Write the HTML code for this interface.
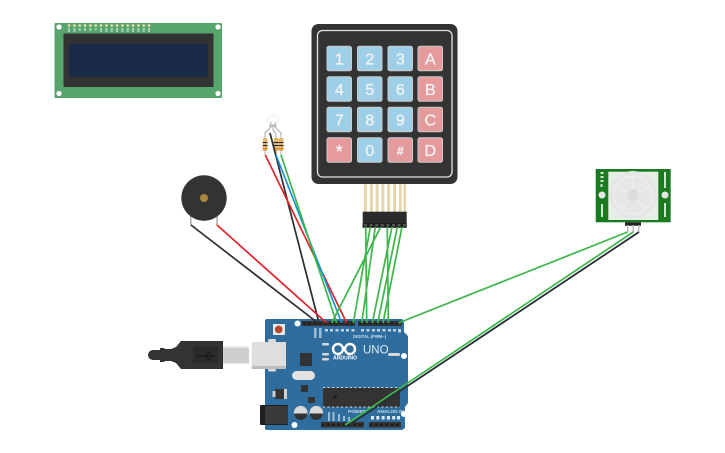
<!DOCTYPE html>
<html><head><meta charset="utf-8"><style>
html,body{margin:0;padding:0;background:#fff}
svg{display:block}
text{font-family:"Liberation Sans",sans-serif}
</style></head><body>
<svg width="725" height="453" viewBox="0 0 725 453" xmlns="http://www.w3.org/2000/svg">
<rect width="725" height="453" fill="#fff"/>
<!-- LCD -->
<rect x="54.5" y="23" width="167.5" height="75" rx="1" fill="#55a56d"/>
<rect x="63.5" y="33.5" width="150" height="53.5" fill="#333"/>
<rect x="69" y="43.5" width="139" height="33.5" fill="#1b2a47"/>
<g fill="#fff"><circle cx="59" cy="27" r="2.6"/><circle cx="218" cy="27" r="2.6"/><circle cx="59" cy="93.500" r="2.600"/><circle cx="218" cy="93.500" r="2.600"/></g>
<g fill="#e8d9a0"><circle cx="69" cy="25.500" r="1.400"/><circle cx="74.400" cy="25.500" r="1.400"/><circle cx="79.700" cy="25.500" r="1.400"/><circle cx="85" cy="25.500" r="1.400"/><circle cx="90.400" cy="25.500" r="1.400"/><circle cx="95.700" cy="25.500" r="1.400"/><circle cx="101" cy="25.500" r="1.400"/><circle cx="106.400" cy="25.500" r="1.400"/><circle cx="111.700" cy="25.500" r="1.400"/><circle cx="117" cy="25.500" r="1.400"/><circle cx="122.400" cy="25.500" r="1.400"/><circle cx="127.700" cy="25.500" r="1.400"/><circle cx="133" cy="25.500" r="1.400"/><circle cx="138.400" cy="25.500" r="1.400"/><circle cx="143.700" cy="25.500" r="1.400"/><circle cx="149" cy="25.500" r="1.400"/></g>
<g fill="#a8d2b4"><rect x="68" y="28" width="2" height="4"/><rect x="73.400" y="28" width="2" height="4"/><rect x="78.700" y="28" width="2" height="3"/><rect x="84" y="28" width="2" height="3"/><rect x="89.400" y="28" width="2" height="3"/><rect x="94.700" y="28" width="2" height="2"/><rect x="100" y="28" width="2" height="4"/><rect x="105.400" y="28" width="2" height="4"/><rect x="110.700" y="28" width="2" height="4"/><rect x="116" y="28" width="2" height="4"/><rect x="121.400" y="28" width="2" height="4"/><rect x="126.700" y="28" width="2" height="4"/><rect x="132" y="28" width="2" height="4"/><rect x="137.400" y="28" width="2" height="4"/><rect x="142.700" y="28" width="2" height="4"/><rect x="148" y="28" width="2" height="4"/></g>
<!-- Keypad ribbon -->
<g fill="#e6d6ac"><rect x="364" y="183" width="3" height="29"/><rect x="369.800" y="183" width="3" height="29"/><rect x="375.600" y="183" width="3" height="29"/><rect x="381.400" y="183" width="3" height="29"/><rect x="387.200" y="183" width="3" height="29"/><rect x="393" y="183" width="3" height="29"/><rect x="398.800" y="183" width="3" height="29"/><rect x="403.500" y="183" width="2.500" height="29"/></g>
<!-- Keypad -->
<rect x="311.500" y="24" width="146" height="160" rx="7" fill="#333"/>
<rect x="317.500" y="30.500" width="134.500" height="146.500" rx="5" fill="none" stroke="#e4e4e4" stroke-width="1.300"/>
<g stroke="#ccc" stroke-width="1">
<rect x="327" y="46.300" width="24.500" height="24.500" rx="2" fill="#9dd0e8"/><rect x="357.500" y="46.300" width="24.500" height="24.500" rx="2" fill="#9dd0e8"/><rect x="388" y="46.300" width="24.500" height="24.500" rx="2" fill="#9dd0e8"/><rect x="418" y="46.300" width="24.500" height="24.500" rx="2" fill="#e59a9c"/>
<rect x="327" y="76.800" width="24.500" height="24.500" rx="2" fill="#9dd0e8"/><rect x="357.500" y="76.800" width="24.500" height="24.500" rx="2" fill="#9dd0e8"/><rect x="388" y="76.800" width="24.500" height="24.500" rx="2" fill="#9dd0e8"/><rect x="418" y="76.800" width="24.500" height="24.500" rx="2" fill="#e59a9c"/>
<rect x="327" y="107.300" width="24.500" height="24.500" rx="2" fill="#9dd0e8"/><rect x="357.500" y="107.300" width="24.500" height="24.500" rx="2" fill="#9dd0e8"/><rect x="388" y="107.300" width="24.500" height="24.500" rx="2" fill="#9dd0e8"/><rect x="418" y="107.300" width="24.500" height="24.500" rx="2" fill="#e59a9c"/>
<rect x="327" y="137.800" width="24.500" height="24.500" rx="2" fill="#e59a9c"/><rect x="357.500" y="137.800" width="24.500" height="24.500" rx="2" fill="#9dd0e8"/><rect x="388" y="137.800" width="24.500" height="24.500" rx="2" fill="#e59a9c"/><rect x="418" y="137.800" width="24.500" height="24.500" rx="2" fill="#e59a9c"/>
</g>
<g fill="#f1f1f1" stroke="#f1f1f1" stroke-width=".35" font-size="16" text-anchor="middle">
<text x="339.300" y="64.300">1</text><text x="369.800" y="64.300">2</text><text x="400.300" y="64.300">3</text><text x="430.300" y="64.300">A</text>
<text x="339.300" y="94.800">4</text><text x="369.800" y="94.800">5</text><text x="400.300" y="94.800">6</text><text x="430.300" y="94.800">B</text>
<text x="339.300" y="125.300">7</text><text x="369.800" y="125.300">8</text><text x="400.300" y="125.300">9</text><text x="430.300" y="125.300">C</text>
<text x="339.300" y="158" font-size="18">*</text><text x="369.800" y="155.800">0</text><text x="400.300" y="155" font-size="12" font-weight="bold">#</text><text x="430.300" y="155.800">D</text>
</g>
<!-- Keypad connector -->
<rect x="362.700" y="211.700" width="44" height="16" fill="#2b2b2b"/>
<rect x="362.700" y="223" width="44" height="4.700" fill="#1e1e1e"/>
<g fill="#555"><rect x="364" y="224" width="3" height="2.500"/><rect x="369.600" y="224" width="3" height="2.500"/><rect x="375.200" y="224" width="3" height="2.500"/><rect x="380.800" y="224" width="3" height="2.500"/><rect x="386.400" y="224" width="3" height="2.500"/><rect x="392" y="224" width="3" height="2.500"/><rect x="397.600" y="224" width="3" height="2.500"/><rect x="403" y="224" width="3" height="2.500"/></g>
<!-- Buzzer -->
<rect x="190" y="216" width="1.500" height="10" fill="#aaa"/><rect x="216.300" y="216" width="1.500" height="10" fill="#aaa"/>
<circle cx="204" cy="198" r="22.700" fill="#333"/>
<circle cx="204" cy="198" r="4" fill="#a9863c"/>
<!-- LED + resistors -->
<circle cx="273" cy="120.500" r="5.500" fill="#fff" stroke="#eee" stroke-width="1"/>
<path d="M271 122v5l-6 6v5M273 124v6l3 4v4M275 122v5l6 6v5M269 126h8" fill="none" stroke="#a8a8a8" stroke-width="1"/>
<g stroke="#a8a8a8" stroke-width="1"><path d="M265 150v5M276 150v5M281 150v5"/></g>
<g><rect x="262.700" y="138" width="4.800" height="13" rx="1.500" fill="#e0b56e"/><rect x="273.700" y="138" width="4.800" height="13" rx="1.500" fill="#e0b56e"/><rect x="278.700" y="138" width="4.800" height="13" rx="1.500" fill="#e0b56e"/></g>
<g fill="#222"><rect x="262.700" y="142" width="4.800" height="1"/><rect x="273.700" y="142" width="4.800" height="1"/><rect x="278.700" y="142" width="4.800" height="1"/><rect x="262.700" y="145" width="4.800" height="1"/><rect x="273.700" y="145" width="4.800" height="1"/><rect x="278.700" y="145" width="4.800" height="1"/></g>
<g fill="#e98a1e"><rect x="262.700" y="148" width="4.800" height="1.500"/><rect x="273.700" y="148" width="4.800" height="1.500"/><rect x="278.700" y="148" width="4.800" height="1.500"/></g>
<!-- USB cable -->
<path d="M153 350h8v10h-8a5 5 0 0 1 0-10z" fill="#333"/>
<path d="M160 348h4l1 1h6l5-2 5-6h42v28h-42l-5-6-5-2h-6l-1 1h-4z" fill="#333"/>
<rect x="193" y="347" width="25" height="16" fill="#2a2a2a"/>
<path d="M197 356h18M205 356l3-3h3M205 356l3 3h3" stroke="#151515" stroke-width="1" fill="none"/>
<rect x="223" y="346" width="26" height="17.500" fill="#cfcfcf"/>
<rect x="223" y="346" width="26" height="2" fill="#e8e8e8"/>
<!-- Arduino -->
<path d="M267 319H402l2 2v11l4 4v67l-3 4v21l-3 2H267q-2 0-2-2V321q0-2 2-2z" fill="#2e6d9e"/>
<rect x="273" y="324" width="12" height="11" fill="#e6e6e6"/>
<circle cx="278.700" cy="329.400" r="3.800" fill="#b5482c"/>
<rect x="251.700" y="342" width="34.300" height="27" fill="#dedede"/>
<rect x="251.700" y="366" width="34.300" height="3" fill="#bdbdbd"/>
<rect x="268" y="339" width="8" height="3" rx="1.500" fill="#dedede"/><rect x="268" y="369" width="8" height="2.500" rx="1.200" fill="#dedede"/>
<rect x="300" y="353" width="12" height="13" fill="#333"/>
<g fill="#fff"><circle cx="297.500" cy="323.500" r="3"/><circle cx="404" cy="356" r="3"/><circle cx="404" cy="414" r="3"/><circle cx="294.500" cy="425" r="3"/></g>
<!-- headers -->
<rect x="301.700" y="321" width="53.300" height="5" fill="#333"/>
<rect x="358" y="321" width="43.700" height="5" fill="#333"/>
<rect x="321" y="422" width="43" height="5.500" fill="#333"/>
<rect x="369" y="422" width="32" height="5.500" fill="#333"/>
<g stroke="#1d1d1d" stroke-width="2" stroke-dasharray="3 2.330" fill="none"><path d="M302.500 323.500H355M358.500 323.500H401.500M321.500 424.700H364M369.500 424.700H401"/></g>
<!-- silkscreen -->
<g fill="#fff"><rect x="325" y="329" width="3" height="2.500" opacity=".7"/><rect x="330" y="329" width="3" height="2.500" opacity=".7"/><rect x="335.500" y="329" width="3" height="2.500" opacity=".7"/><rect x="341" y="329" width="3" height="2.500" opacity=".7"/><rect x="346" y="329" width="3" height="2.500" opacity=".7"/><rect x="351.500" y="329" width="3" height="2.500" opacity=".7"/><rect x="361" y="329" width="3" height="2.500" opacity=".7"/><rect x="366.500" y="329" width="3" height="2.500" opacity=".7"/><rect x="372" y="329" width="3" height="2.500" opacity=".7"/><rect x="377" y="329" width="3" height="2.500" opacity=".7"/><rect x="382.500" y="329" width="3" height="2.500" opacity=".7"/><rect x="388" y="329" width="3" height="2.500" opacity=".7"/><rect x="393" y="329" width="3" height="2.500" opacity=".7"/><rect x="398" y="329" width="3" height="3.500" opacity=".7"/></g>
<g fill="#9dbdd4"><rect x="314" y="328" width="2.500" height="10"/><rect x="319" y="328" width="2.500" height="10"/><rect x="328" y="412" width="2" height="9"/><rect x="332.500" y="412" width="2" height="9"/><rect x="338" y="414" width="2" height="7"/><rect x="343" y="416" width="2" height="5"/><rect x="348" y="417" width="2" height="4"/></g>
<text x="353" y="338" font-size="4.700" font-weight="bold" fill="#cfe0ec" textLength="33" lengthAdjust="spacingAndGlyphs">DIGITAL (PWM~)</text>
<text x="363" y="353.500" font-size="11.500" fill="#dce8f1">UNO</text>
<g fill="none" stroke="#fff" stroke-width="2.400"><circle cx="338" cy="349" r="5"/><circle cx="350" cy="349" r="5"/></g>
<text x="333" y="359.500" font-size="5.500" font-weight="bold" fill="#fff" textLength="24" lengthAdjust="spacingAndGlyphs">ARDUINO</text>
<g fill="#d8d8d8"><rect x="322" y="343" width="7" height="2.500" rx="1"/><rect x="322" y="353" width="7" height="2.500" rx="1"/><rect x="322" y="358" width="7" height="2.500" rx="1"/><rect x="388" y="353" width="12" height="3" rx="1.500"/></g>
<rect x="292" y="371" width="23" height="9" rx="4.500" fill="#e2e2e2"/>
<!-- chip -->
<rect x="323" y="388" width="77" height="19" fill="#333"/>
<path d="M323 387.500H400M323 407H400" stroke="#ddd" stroke-width="1" stroke-dasharray="2 2.500" fill="none"/>
<circle cx="335" cy="397" r="2" fill="#1e1e1e"/>
<rect x="301" y="385" width="7" height="7" fill="#333"/>
<rect x="275" y="389" width="9" height="10" fill="#333"/><rect x="272.500" y="391" width="3" height="6" fill="#cfcfcf"/><rect x="284" y="389" width="3" height="10" fill="#cfcfcf"/>
<rect x="308" y="397" width="7" height="6" fill="#333"/>
<text x="348" y="413" font-size="4.800" font-weight="bold" fill="#cfe0ec">POWER</text>
<text x="377" y="413" font-size="4.800" font-weight="bold" fill="#cfe0ec">ANALOG IN</text>
<g fill="#dfe9f0"><rect x="371" y="416" width="3" height="3.500"/><rect x="376.300" y="416" width="3" height="3.500"/><rect x="381.600" y="416" width="3" height="3.500"/><rect x="386.900" y="416" width="3" height="3.500"/><rect x="392.200" y="416" width="3" height="3.500"/><rect x="397" y="416" width="3" height="3.500"/></g>
<!-- capacitors -->
<circle cx="300.700" cy="412.700" r="6.800" fill="#d9d9d9"/><path d="M294.200 413.500a6.500 6.500 0 0 0 13 0z" fill="#333"/>
<circle cx="316.300" cy="412.700" r="6.800" fill="#d9d9d9"/><path d="M309.800 413.500a6.500 6.500 0 0 0 13 0z" fill="#333"/>
<!-- power jack -->
<rect x="260" y="405" width="28" height="20" rx="1" fill="#1f1f1f"/>
<rect x="265" y="406" width="23" height="18" rx="1" fill="#3a3a3a"/>
<!-- PIR -->
<rect x="595.700" y="169" width="75" height="53.300" fill="#1a7a20"/>
<rect x="608.300" y="171.700" width="50" height="48.300" fill="#e6efe6"/>
<circle cx="633" cy="195" r="24" fill="#e6e6e6"/>
<g stroke="#f0f0f0" stroke-width="1" fill="none"><circle cx="633" cy="195" r="19"/><path d="M633 176v13M616 186l12 6M650 186l-12 6M620 210l9-10M646 210l-9-10"/></g>
<circle cx="633" cy="195" r="6" fill="#dcdcdc"/>
<circle cx="602" cy="195" r="3.500" fill="#e6e6e6"/><circle cx="665" cy="195" r="3.500" fill="#e6e6e6"/>
<g fill="#cfe6cf"><rect x="600.500" y="172" width="3" height="2"/><rect x="600.500" y="176" width="3" height="2"/><rect x="600.500" y="180" width="3" height="2"/><rect x="600.500" y="184" width="2" height="3"/><rect x="601" y="204" width="2" height="13"/><rect x="664" y="172" width="2" height="16"/><rect x="664" y="203" width="2" height="14"/></g>
<rect x="625" y="222.300" width="16" height="3.500" fill="#222"/>
<g fill="#bdbdbd"><rect x="627" y="225" width="1.500" height="7"/><rect x="632.500" y="225" width="1.500" height="7"/><rect x="638" y="225" width="1.500" height="7"/></g>
<!-- wires -->
<g fill="none" stroke-width="1.700">
<path d="M191 225L318 323M270 133L319 323" stroke="#2e2e2e"/>
<path d="M217 225L326.700 323M265.300 155L346.700 323" stroke="#e0242c"/>
<path d="M276 155L341.700 323" stroke="#1593d3"/>
<path d="M281 155L336.700 323" stroke="#3db54a"/>
<path d="M365.700 227L366.700 323M370.300 227L353.300 323M375.300 227L361.700 323M380.700 227L331.700 323M387.300 227L388.300 323M392 227L372.300 323M397.300 227L377.700 323M402 227L383 323" stroke="#3db54a"/>
<path d="M627.700 232L398.300 323" stroke="#3db54a"/>
<path d="M639 232L349 425" stroke="#26303a" stroke-width="1.800"/>
<path d="M633.200 232L345 425" stroke="#3db54a" stroke-width="1.700"/>
</g>
</svg>
</body></html>
